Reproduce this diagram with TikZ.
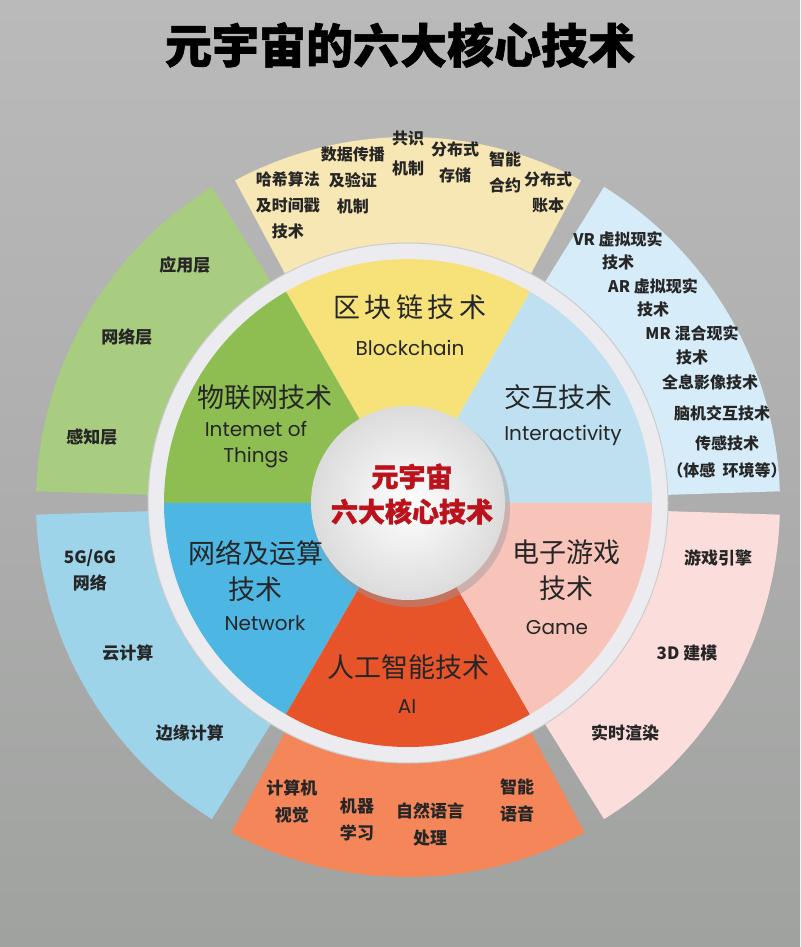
\documentclass[tikz,border=0pt]{standalone}
\usepackage{fontspec}
\setmainfont{Noto Sans CJK SC}
\newfontfamily\heavy[BoldFeatures={FakeBold=1.3}]{Noto Sans CJK SC}
\newfontfamily\latin{Poppins}
\usepackage{tikz}
\definecolor{bgtop}{RGB}{186,186,186}
\definecolor{bgbot}{RGB}{160,162,160}
\definecolor{ink}{RGB}{38,38,38}
\definecolor{coreRed}{RGB}{188,18,28}
\definecolor{ringc}{RGB}{236,236,240}
% 外圈颜色
\definecolor{chainOut}{RGB}{247,231,180}
\definecolor{interOut}{RGB}{214,236,248}
\definecolor{iotOut}{RGB}{168,204,128}
\definecolor{netOut}{RGB}{158,212,234}
\definecolor{aiOut}{RGB}{244,134,90}
\definecolor{gameOut}{RGB}{251,222,220}
% 内圈颜色
\definecolor{chainIn}{RGB}{246,226,120}
\definecolor{interIn}{RGB}{190,224,240}
\definecolor{iotIn}{RGB}{142,190,82}
\definecolor{netIn}{RGB}{78,182,226}
\definecolor{aiIn}{RGB}{232,84,42}
\definecolor{gameIn}{RGB}{248,196,186}

\begin{document}
\begin{tikzpicture}[x=1pt, y=1pt,
    sub/.style={font=\fontsize{16}{26}\selectfont\bfseries, text=ink, align=center, inner sep=0pt},
    subbig/.style={font=\fontsize{17}{27}\selectfont\bfseries, text=ink, align=center, inner sep=0pt},
    zh/.style={font=\fontsize{27}{36}\selectfont, text=ink, align=center, inner sep=0pt},
    en/.style={font=\latin\fontsize{20}{26}\selectfont, text=ink, align=center, inner sep=0pt}]
    % 背景
    \useasboundingbox (-408,-444) rectangle (392,503);
    \shade[top color=bgtop, bottom color=bgbot] (-408,-444) rectangle (392,503);
    % 标题
    \node[font=\heavy\fontsize{47}{50}\selectfont\bfseries, text=black] (title) at (-8,458) {元宇宙的六大核心技术};
    % 外圈扇形
    \fill[interOut] (1.8:250pt) arc[start angle=1.8, end angle=58.2, radius=250pt] -- (58.2:372pt) arc[start angle=58.2, end angle=1.8, radius=372pt] -- cycle;
    \fill[chainOut] (61.8:250pt) arc[start angle=61.8, end angle=118.2, radius=250pt] -- (118.2:366pt) arc[start angle=118.2, end angle=61.8, radius=366pt] -- cycle;
    \fill[iotOut] (121.8:250pt) arc[start angle=121.8, end angle=178.2, radius=250pt] -- (178.2:372pt) arc[start angle=178.2, end angle=121.8, radius=372pt] -- cycle;
    \fill[netOut] (181.8:250pt) arc[start angle=181.8, end angle=238.2, radius=250pt] -- (238.2:372pt) arc[start angle=238.2, end angle=181.8, radius=372pt] -- cycle;
    \fill[aiOut] (241.8:250pt) arc[start angle=241.8, end angle=298.2, radius=250pt] -- (298.2:374pt) arc[start angle=298.2, end angle=241.8, radius=374pt] -- cycle;
    \fill[gameOut] (301.8:250pt) arc[start angle=301.8, end angle=358.2, radius=250pt] -- (358.2:372pt) arc[start angle=358.2, end angle=301.8, radius=372pt] -- cycle;
    % 白色圆环
    \fill[ringc] (0,0) circle[radius=260pt];
    \draw[black!20, line width=1pt] (0,0) circle[radius=260pt];
    % 内圈扇形
    \fill[interIn] (0,0) -- (0:244pt) arc[start angle=0, end angle=60, radius=244pt] -- cycle;
    \fill[chainIn] (0,0) -- (60:244pt) arc[start angle=60, end angle=120, radius=244pt] -- cycle;
    \fill[iotIn] (0,0) -- (120:244pt) arc[start angle=120, end angle=180, radius=244pt] -- cycle;
    \fill[netIn] (0,0) -- (180:244pt) arc[start angle=180, end angle=240, radius=244pt] -- cycle;
    \fill[aiIn] (0,0) -- (240:244pt) arc[start angle=240, end angle=300, radius=244pt] -- cycle;
    \fill[gameIn] (0,0) -- (300:244pt) arc[start angle=300, end angle=360, radius=244pt] -- cycle;
    % 中心圆
    \fill[black!40, opacity=0.45] (3,-5) circle[radius=99pt];
    \shade[inner color=white, outer color=black!14] (0,0) circle[radius=97pt];
    \node[font=\heavy\fontsize{27}{35}\selectfont\bfseries, text=coreRed, align=center] (core) at (4,9) {元宇宙\\六大核心技术};
    % 区块链
    \node[zh] (chain) at (2,196) {区\,块\,链\,技\,术};
    \node[en] (chainEn) at (2,155) {Blockchain};
    \node[sub] (hash) at (-120,298) {哈希算法\\及时间戳\\技术};
    \node[sub] (spread) at (-55,323) {数据传播\\及验证\\机制};
    \node[sub, font=\fontsize{16}{30}\selectfont\bfseries] (consensus) at (0,350) {共识\\机制};
    \node[sub] (storage) at (47,341) {分布式\\存储};
    \node[sub] (contract) at (97,331) {智能\\合约};
    \node[sub] (ledger) at (140,311) {分布式\\账本};
    % 交互
    \node[zh] (inter) at (150,106) {交互技术};
    \node[en] (interEn) at (155,68) {Interactivity};
    \node[sub, font=\fontsize{16}{23}\selectfont\bfseries] (vr) at (210,252) {VR 虚拟现实\\技术};
    \node[sub, font=\fontsize{16}{23}\selectfont\bfseries] (ar) at (245,205) {AR 虚拟现实\\技术};
    \node[sub, font=\fontsize{16}{24}\selectfont\bfseries] (mr) at (284,158) {MR 混合现实\\技术};
    \node[sub] (holo) at (302,121) {全息影像技术};
    \node[sub] (bci) at (314,90) {脑机交互技术};
    \node[sub] (sense) at (319,60) {传感技术};
    \node[sub] (senseSub) at (319,33) {（体感\ \ 环境等）};
    % 物联网
    \node[zh] (iot) at (-143,106) {物联网技术};
    \node[en] (iotEn) at (-152,58) {Intemet of\\Things};
    \node[subbig] (app) at (-223,238) {应用层};
    \node[subbig] (netLayer) at (-281,166) {网络层};
    \node[subbig] (perc) at (-316,66) {感知层};
    % 网络及运算
    \node[zh] (net) at (-152,-68) {网络及运算\\技术};
    \node[en] (netEn) at (-143,-120) {Network};
    \node[subbig, font=\fontsize{17}{26}\selectfont\bfseries] (fiveG) at (-318,-67) {5G/6G\\网络};
    \node[subbig] (cloud) at (-280,-150) {云计算};
    \node[subbig] (edge) at (-218,-230) {边缘计算};
    % 人工智能
    \node[zh] (ai) at (0,-164) {人工智能技术};
    \node[en] (aiEn) at (-1,-204) {AI};
    \node[subbig] (cv) at (-116,-298) {计算机\\视觉};
    \node[subbig] (ml) at (-51,-316) {机器\\学习};
    \node[subbig] (nlp) at (22,-322) {自然语言\\处理};
    \node[subbig] (voice) at (109,-297) {智能\\语音};
    % 电子游戏
    \node[zh] (game) at (158,-67) {电子游戏\\技术};
    \node[en] (gameEn) at (149,-125) {Game};
    \node[subbig] (engine) at (310,-55) {游戏引擎};
    \node[subbig] (model) at (279,-150) {3D 建模};
    \node[subbig] (render) at (217,-230) {实时渲染};
\end{tikzpicture}
\end{document}
